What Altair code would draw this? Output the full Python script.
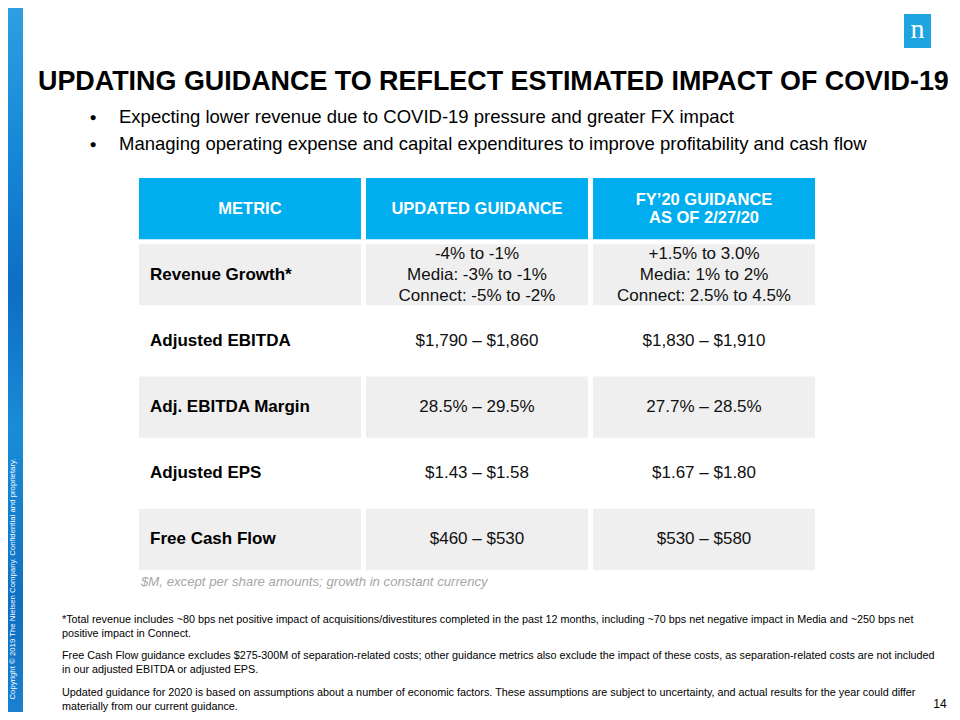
import altair as alt
import pandas as pd

# ---------------- data ----------------
col_keys = ["c0", "c1", "c2"]
col_headers = ["METRIC", "UPDATED  GUIDANCE", "FY\u201920  GUIDANCE\nAS  OF  2/27/20"]
row_keys = ["r0", "r1", "r2", "r3", "r4", "r5"]
metrics = ["Revenue  Growth*", "Adjusted  EBITDA", "Adj.  EBITDA  Margin", "Adjusted  EPS", "Free Cash  Flow"]
updated = ["-4% to -1%\nMedia:  -3% to -1%\nConnect:  -5% to -2%",
           "$1,790  \u2013 $1,860", "28.5%  \u2013 29.5%", "$1.43  \u2013 $1.58", "$460  \u2013 $530"]
prior = ["+1.5% to 3.0%\nMedia:  1% to 2%\nConnect:  2.5% to 4.5%",
         "$1,830  \u2013 $1,910", "27.7%  \u2013 28.5%", "$1.67  \u2013 $1.80", "$530  \u2013 $580"]

title_text = "UPDATING GUIDANCE TO REFLECT ESTIMATED IMPACT OF COVID-19"
bullets = ["Expecting lower revenue due to COVID-19 pressure and greater FX impact",
           "Managing operating expense and capital expenditures to improve profitability and cash flow"]
table_note = "$M,  except per share amounts; growth  in constant currency"
footnotes = [
    "*Total revenue includes ~80 bps net positive impact of acquisitions/divestitures completed in the past 12 months, including ~70 bps net negative impact in Media and ~250 bps net\npositive impact in Connect.",
    "Free Cash Flow guidance excludes $275-300M of separation-related costs; other guidance metrics also exclude the impact  of these costs, as separation-related costs are not included\nin our adjusted EBITDA  or adjusted EPS.",
    "Updated guidance for 2020 is based on assumptions about a number of economic factors. These assumptions are subject to uncertainty, and actual results for the year could differ\nmaterially  from our current guidance.",
]
copyright_text = "Copyright \u00a9 2019 The Nielsen Company. Confidential and proprietary."
page_number = "14"

# ---------------- table build ----------------
records = []
for c, h in zip(col_keys, col_headers):
    records.append({"row": "r0", "col": c, "text": h, "kind": "header", "shade": "header"})
for i, (m, u, p) in enumerate(zip(metrics, updated, prior)):
    rk = row_keys[i + 1]
    shade = "gray" if i % 2 == 0 else "white"
    records.append({"row": rk, "col": "c0", "text": m, "kind": "metric", "shade": shade})
    records.append({"row": rk, "col": "c1", "text": u, "kind": "value", "shade": shade})
    records.append({"row": rk, "col": "c2", "text": p, "kind": "value", "shade": shade})
cells = pd.DataFrame(records)
cells["lines"] = cells["text"].str.count("\n") + 1

FONT = "Liberation Sans, Arial, sans-serif"

xs = alt.Scale(domain=col_keys, range=[131, 807], paddingInner=0.0223, paddingOuter=0)
ys = alt.Scale(domain=row_keys, range=[170, 562], paddingInner=0.0755, paddingOuter=0)
X = alt.X("col:N", scale=xs, axis=None)
Y = alt.Y("row:N", scale=ys, axis=None)

base = alt.Chart(cells)

rects = base.transform_filter(alt.datum.shade != "white").mark_rect().encode(
    x=X, y=Y,
    color=alt.Color("shade:N", scale=alt.Scale(domain=["header", "gray"], range=["#00AEEF", "#EFEFEF"]), legend=None),
)

HDR_LH = 18
VAL_LH = 21
txt_layers = []
for n in (1, 2):
    txt_layers.append(base.transform_filter((alt.datum.kind == "header") & (alt.datum.lines == n)).mark_text(
        font=FONT, fontSize=16.5, fontWeight="bold", color="white", lineBreak="\n", lineHeight=HDR_LH,
        dy=-(n - 1) * HDR_LH / 2
    ).encode(x=X, y=Y, text="text:N"))

metric_txt = base.transform_filter(alt.datum.kind == "metric").mark_text(
    font=FONT, fontSize=17, fontWeight="bold", color="black", align="left", dx=11
).encode(x=alt.X("col:N", scale=xs, axis=None, bandPosition=0), y=Y, text="text:N")
txt_layers.append(metric_txt)

for n in (1, 3):
    txt_layers.append(base.transform_filter((alt.datum.kind == "value") & (alt.datum.lines == n)).mark_text(
        font=FONT, fontSize=17, color="#111111", lineBreak="\n", lineHeight=VAL_LH,
        dy=-(n - 1) * VAL_LH / 2
    ).encode(x=X, y=Y, text="text:N"))


def label(text, **kw):
    return alt.Chart(pd.DataFrame({"t": [text]})).mark_text(font=FONT, **kw)


# left decorative band
band_grad = alt.Gradient(
    gradient="linear", x1=0, x2=0, y1=0, y2=1,
    stops=[
        alt.GradientStop(color="#2F9FE2", offset=0),
        alt.GradientStop(color="#1688D6", offset=0.2),
        alt.GradientStop(color="#0E6EC2", offset=0.4),
        alt.GradientStop(color="#1A8CD8", offset=0.6),
        alt.GradientStop(color="#0F6FC2", offset=0.85),
        alt.GradientStop(color="#1A80CF", offset=1),
    ],
)
band = alt.Chart(pd.DataFrame({"t": [0]})).mark_rect(color=band_grad).encode(
    x=alt.value(0), x2=alt.value(15), y=alt.value(0), y2=alt.value(704)
)
copyright_lbl = label(copyright_text, fontSize=7.8, color="white", angle=270, align="center", baseline="middle").encode(
    x=alt.value(5), y=alt.value(571), text="t:N")

# logo
logo = alt.Chart(pd.DataFrame({"t": [0]})).mark_rect(color="#1EA5E0").encode(
    x=alt.value(896), x2=alt.value(923), y=alt.value(6), y2=alt.value(40))
logo_n = alt.Chart(pd.DataFrame({"t": ["n"]})).mark_text(
    font="Liberation Serif, DejaVu Serif, serif", fontSize=28, color="white", align="center", baseline="alphabetic"
).encode(x=alt.value(909.5), y=alt.value(30), text="t:N")

title_lbl = label(title_text, fontSize=26.9, fontWeight="bold", color="black", align="left", baseline="middle").encode(
    x=alt.value(30), y=alt.value(74), text="t:N")

bullet_layers = []
for i, b in enumerate(bullets):
    yv = 109 + 27 * i
    bullet_layers.append(label("\u25cf", fontSize=12, color="black", align="center", baseline="middle").encode(
        x=alt.value(85), y=alt.value(yv), text="t:N"))
    bullet_layers.append(label(b, fontSize=18.5, color="black", align="left", baseline="middle").encode(
        x=alt.value(111), y=alt.value(yv), text="t:N"))

note_lbl = label(table_note, fontSize=13.2, fontStyle="italic", color="#A6A6A6", align="left", baseline="middle").encode(
    x=alt.value(133), y=alt.value(574), text="t:N")

foot_layers = []
for i, f in enumerate(footnotes):
    yv = [612, 648, 685][i]
    foot_layers.append(label(f, fontSize=10.8, color="black", align="left", baseline="middle",
                             lineBreak="\n", lineHeight=13.5).encode(x=alt.value(54), y=alt.value(yv), text="t:N"))

page_lbl = label(page_number, fontSize=12, color="black", align="center", baseline="middle").encode(
    x=alt.value(932), y=alt.value(696), text="t:N")

chart = alt.layer(
    band, copyright_lbl, logo, logo_n, title_lbl, *bullet_layers,
    rects, *txt_layers,
    note_lbl, *foot_layers, page_lbl,
).properties(
    width=944, height=704, padding=0, autosize="none", background="white"
).configure_view(stroke=None)

chart.save("out.html", embed_options={"renderer": "svg", "actions": False})
